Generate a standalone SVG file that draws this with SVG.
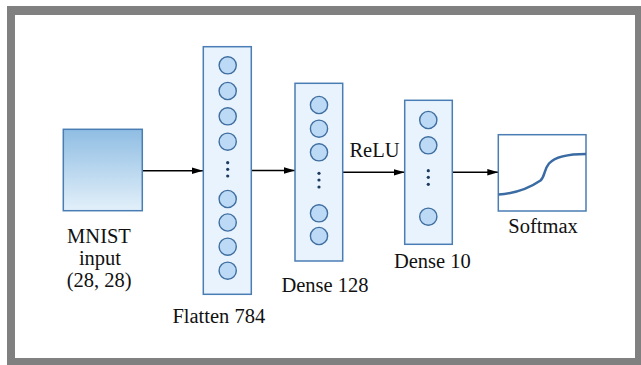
<svg xmlns="http://www.w3.org/2000/svg" width="641" height="365" viewBox="0 0 641 365">
<style>
.frame{fill:#808080}
.layer{fill:#e8f3fd;stroke:#4a7db3;stroke-width:1.5}
.neuron{fill:#bcdaf6;stroke:#3f6e9f;stroke-width:1.4}
.dot{fill:#1d3a60}
.lbl{font-size:20.5px;fill:#111;text-anchor:middle}
.conn{stroke:#000;stroke-width:1.4;fill:none}
</style>
<defs>
<linearGradient id="inGrad" x1="0" y1="0" x2="0" y2="1">
<stop offset="0" stop-color="#8fbde3"/>
<stop offset="1" stop-color="#e3f0fa"/>
</linearGradient>
<marker id="arr" markerWidth="12" markerHeight="8" refX="11" refY="4" orient="auto" markerUnits="userSpaceOnUse">
<path d="M0,0.8 L11,4 L0,7.2 Z" fill="#000"/>
</marker>
</defs>
<rect x="0" y="0" width="641" height="365" fill="#fff"/>
<rect class="frame" x="7" y="6" width="634" height="359"/>
<rect x="15" y="15" width="620" height="343" fill="#fff"/>

<g font-family="'Liberation Serif', 'DejaVu Serif', serif">
<g id="connectors">
<line class="conn" x1="142.5" y1="170.7" x2="203" y2="170.7" marker-end="url(#arr)"/>
<line class="conn" x1="251.5" y1="170.5" x2="295" y2="170.5" marker-end="url(#arr)"/>
<line class="conn" x1="342.7" y1="172.3" x2="404.7" y2="172.3" marker-end="url(#arr)"/>
<line class="conn" x1="452.3" y1="172.3" x2="498.3" y2="172.3" marker-end="url(#arr)"/>
<text class="lbl" x="374.5" y="156.7">ReLU</text>
</g>

<g id="mnist-input">
<rect x="63.3" y="129.3" width="79" height="81.4" fill="url(#inGrad)" stroke="#4a7db3" stroke-width="1.5"/>
<text class="lbl" x="99" y="243.3">MNIST</text>
<text class="lbl" x="100" y="265">input</text>
<text class="lbl" x="99.2" y="286.7">(28, 28)</text>
</g>

<g id="flatten-784">
<rect class="layer" x="203.3" y="46.7" width="48" height="247.6"/>
<circle class="neuron" cx="227.7" cy="65.3" r="8.6"/>
<circle class="neuron" cx="227.7" cy="91" r="8.6"/>
<circle class="neuron" cx="227.7" cy="116.3" r="8.6"/>
<circle class="neuron" cx="227.7" cy="141.7" r="8.6"/>
<circle class="dot" cx="227.7" cy="162.7" r="1.6"/>
<circle class="dot" cx="227.7" cy="169.3" r="1.6"/>
<circle class="dot" cx="227.7" cy="176" r="1.6"/>
<circle class="neuron" cx="227.7" cy="199" r="8.6"/>
<circle class="neuron" cx="227.7" cy="222.5" r="8.6"/>
<circle class="neuron" cx="227.7" cy="246.7" r="8.6"/>
<circle class="neuron" cx="227.7" cy="270.7" r="8.6"/>
<text class="lbl" x="218.8" y="323.3">Flatten 784</text>
</g>

<g id="dense-128">
<rect class="layer" x="295" y="83.3" width="47.7" height="177.7"/>
<circle class="neuron" cx="319" cy="105" r="8.6"/>
<circle class="neuron" cx="319" cy="128.7" r="8.6"/>
<circle class="neuron" cx="319" cy="152.3" r="8.6"/>
<circle class="dot" cx="319" cy="173.3" r="1.6"/>
<circle class="dot" cx="319" cy="180" r="1.6"/>
<circle class="dot" cx="319" cy="187" r="1.6"/>
<circle class="neuron" cx="319" cy="213.3" r="8.6"/>
<circle class="neuron" cx="319" cy="236" r="8.6"/>
<text class="lbl" x="325" y="291.7">Dense 128</text>
</g>

<g id="dense-10">
<rect class="layer" x="404.7" y="100.3" width="47.6" height="144"/>
<circle class="neuron" cx="428.3" cy="120" r="8.6"/>
<circle class="neuron" cx="428.3" cy="145.3" r="8.6"/>
<circle class="dot" cx="428.3" cy="170.7" r="1.6"/>
<circle class="dot" cx="428.3" cy="177.3" r="1.6"/>
<circle class="dot" cx="428.3" cy="184.3" r="1.6"/>
<circle class="neuron" cx="428.3" cy="216.7" r="8.6"/>
<text class="lbl" x="432.4" y="268">Dense 10</text>
</g>

<g id="softmax">
<rect x="498.3" y="134.7" width="87.7" height="76.3" fill="#fff" stroke="#4a7db3" stroke-width="1.5"/>
<path d="M498.5,194.5 C514,193.5 528,189 540.5,180.5 C545.5,176 543.5,170 549,163.5 C555,157 566,154 586,154" fill="none" stroke="#3a6ca3" stroke-width="2.5"/>
<text class="lbl" x="543" y="232.5">Softmax</text>
</g>
</g>
</svg>
